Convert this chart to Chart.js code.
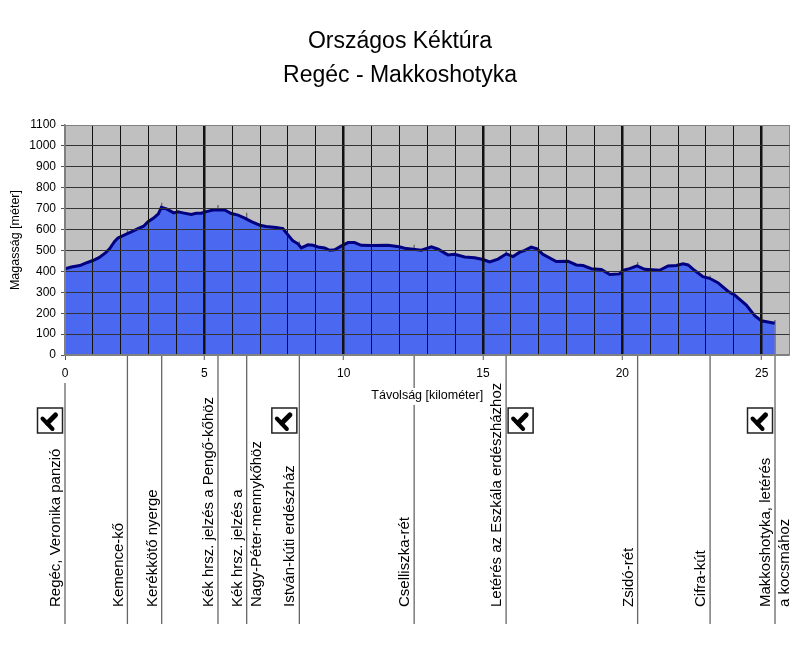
<!DOCTYPE html>
<html>
<head>
<meta charset="utf-8">
<title>Országos Kéktúra</title>
<style>
  html, body { margin: 0; padding: 0; background: #fff; }
  canvas { display: block; }
</style>
<script src="https://cdn.jsdelivr.net/npm/chart.js@4"></script>
</head>
<body>
<canvas id="profile" width="800" height="656"></canvas>
<script>
const titleLines = ["Országos Kéktúra", "Regéc - Makkoshotyka"];

// profile
const distances = [0, 0.23, 0.53, 0.74, 1.0, 1.22, 1.46, 1.6, 1.78, 1.9, 2.14, 2.38, 2.62, 2.82, 2.98, 3.18, 3.35, 3.46,
  3.64, 3.9, 4.05, 4.23, 4.53, 4.71, 4.89, 5.07, 5.31, 5.73, 5.97, 6.21, 6.45, 6.69, 6.99, 7.22, 7.58, 7.82, 8.0, 8.18,
  8.36, 8.48, 8.72, 8.9, 9.08, 9.32, 9.5, 9.68, 9.92, 10.16, 10.39, 10.63, 10.99, 11.59, 11.99, 12.25, 12.49, 12.79,
  13.15, 13.39, 13.74, 13.98, 14.34, 14.7, 15, 15.24, 15.54, 15.84, 16.08, 16.32, 16.5, 16.73, 16.94, 17.15, 17.63,
  18.05, 18.35, 18.59, 18.89, 19.25, 19.55, 19.9, 20.02, 20.26, 20.53, 20.8, 21.34, 21.64, 21.94, 22.18, 22.36, 22.6,
  22.89, 23.13, 23.43, 23.79, 24.03, 24.45, 24.75, 24.99, 25.47];
const elevations = [412, 421, 428, 440, 452, 466, 490, 508, 543, 560, 575, 589, 605, 616, 638, 655, 675, 707,
  699, 680, 685, 680, 672, 678, 678, 686, 694, 694, 677, 669, 655, 638, 621, 615, 610, 605, 575, 546,
  532, 512, 527, 525, 517, 512, 501, 503, 522, 538, 538, 525, 524, 525, 518, 509, 506, 501,
  517, 506, 479, 482, 469, 465, 457, 445, 459, 484, 471, 492, 501, 516, 508, 482, 447,
  449, 431, 428, 413, 409, 385, 388, 405, 413, 426, 410, 405, 426, 428, 436, 431, 404,
  375, 367, 346, 305, 287, 239, 188, 164, 152];

// waypoints: where they are on the route and how high their line reaches
const waypointKm = [0, 2.24, 3.47, 5.49, 6.52, 8.41, 12.53, 15.83, 20.55, 23.15, 25.48];
const waypointTops = [412, 602, 729, 718, 681, 543, 527, 499, 445, 380, 168];
const waypointNames = [
  ["Regéc, Veronika panzió"],
  ["Kemence-kő"],
  ["Kerékkötő nyerge"],
  ["Kék hrsz. jelzés a Pengő-kőhöz"],
  ["Kék hrsz. jelzés a", "Nagy-Péter-mennykőhöz"],
  ["István-kúti erdészház"],
  ["Cselliszka-rét"],
  ["Letérés az Eszkála erdészházhoz"],
  ["Zsidó-rét"],
  ["Cifra-kút"],
  ["Makkoshotyka, letérés", "a kocsmához"]
];
const stampKm = [0, 8.41, 15.83, 25.48];

const FONT = "'Liberation Sans', Arial, sans-serif";
Chart.defaults.font.family = FONT;
Chart.defaults.color = "#000";

function drawStamp(ctx, left, top) {
  ctx.save();
  ctx.translate(left, top);
  ctx.fillStyle = "#fff";
  ctx.strokeStyle = "#222";
  ctx.lineWidth = 1.5;
  ctx.fillRect(0, 0, 25, 25);
  ctx.strokeRect(0, 0, 25, 25);
  ctx.strokeStyle = "#000";
  ctx.lineCap = "round";
  ctx.lineWidth = 4;
  ctx.beginPath();
  ctx.moveTo(5, 10.5);
  ctx.lineTo(15, 21);
  ctx.stroke();
  ctx.beginPath();
  ctx.moveTo(10, 15);
  ctx.lineTo(18, 7);
  ctx.lineWidth = 5;
  ctx.stroke();
  ctx.restore();
}

const plotBackground = {
  id: "plotBackground",
  beforeDraw(chart) {
    const a = chart.chartArea, ctx = chart.ctx;
    ctx.fillStyle = "#c0c0c0";
    ctx.fillRect(a.left, a.top, a.width, a.height);
  }
};

// lines go under the filled profile, so only the part above it and below the axis shows
const waypointLines = {
  id: "waypointLines",
  beforeDatasetsDraw(chart) {
    const ctx = chart.ctx, x = chart.scales.x, y = chart.scales.y;
    const bottom = 624;
    ctx.save();
    ctx.strokeStyle = "#666";
    ctx.lineWidth = 1.3;
    waypointKm.forEach((km, i) => {
      const px = x.getPixelForValue(km);
      ctx.beginPath();
      if (i === 0) {
        ctx.moveTo(px, 383);
      } else {
        ctx.moveTo(px, y.getPixelForValue(waypointTops[i]));
      }
      if (km === 12.53) {  // axis title sits on this one
        ctx.lineTo(px, 388);
        ctx.moveTo(px, 405);
      }
      ctx.lineTo(px, bottom);
      ctx.stroke();
    });
    ctx.restore();
  },
  afterDraw(chart) {
    const ctx = chart.ctx, x = chart.scales.x;
    ctx.save();
    ctx.fillStyle = "#000";
    ctx.font = "15px " + FONT;
    ctx.textAlign = "left";
    ctx.textBaseline = "middle";
    waypointKm.forEach((km, i) => {
      const px = x.getPixelForValue(km);
      waypointNames[i].forEach((line, j) => {
        ctx.save();
        ctx.translate(px - 9 + j * 19, 607);
        ctx.rotate(-Math.PI / 2);
        ctx.fillText(line, 0, 0);
        ctx.restore();
      });
    });
    stampKm.forEach(km => {
      const px = x.getPixelForValue(km);
      // the 15.83 km stamp is on the right of its line, the others on the left
      const left = km === 15.83 ? px + 2 : px - 27.5;
      drawStamp(ctx, left, 408);
    });
    ctx.restore();
  }
};

new Chart(document.getElementById("profile"), {
  type: "line",
  data: {
    datasets: [{
      data: distances.map((d, i) => ({ x: d, y: elevations[i] })),
      borderColor: "#000080",
      borderWidth: 3,
      backgroundColor: "#4a69f0",
      fill: "origin",
      pointRadius: 0,
      tension: 0
    }]
  },
  plugins: [plotBackground, waypointLines],
  options: {
    responsive: false,
    animation: false,
    // equal side padding keeps the title centred on the page
    layout: { padding: { left: 10.5, right: 10.5, top: 0, bottom: 251 } },
    plugins: {
      legend: { display: false },
      tooltip: { enabled: false },
      title: {
        display: true,
        text: titleLines,
        color: "#000",
        font: { size: 23, weight: "normal", lineHeight: 1.48 },
        padding: { top: 25, bottom: 32 }
      }
    },
    scales: {
      x: {
        type: "linear",
        min: 0,
        max: 26,
        afterFit: s => { s.height = 50; },
        border: { color: "#808080", width: 1.5, z: 2 },
        grid: {
          z: 1,
          color: c => (c.tick.value === 0 || c.tick.value === 26) ? "#808080" : "#111",
          lineWidth: c => (c.tick.value % 5 === 0 && c.tick.value !== 0) ? 2.5 : 1,
          tickColor: c => c.tick.value % 5 === 0 ? "#555" : "rgba(0,0,0,0)",
          tickWidth: 1,
          tickLength: 5
        },
        ticks: {
          stepSize: 1,
          autoSkip: false,
          maxRotation: 0,
          padding: 6,
          font: { size: 12 },
          callback: v => v % 5 === 0 ? String(v) : ""
        },
        title: {
          display: true,
          text: "Távolság [kilométer]",
          font: { size: 12.5 },
          padding: { top: 0, bottom: 2 }
        }
      },
      y: {
        min: 0,
        max: 1100,
        afterFit: s => { s.width = 54.5; },
        border: { color: "#808080", width: 1.5, z: 2 },
        grid: {
          z: 1,
          color: c => (c.tick.value === 0 || c.tick.value === 1100) ? "#808080" : "#333",
          lineWidth: 1,
          tickColor: "#555",
          tickLength: 4
        },
        ticks: {
          stepSize: 100,
          padding: 5,
          font: { size: 12 },
          callback: v => String(v)
        },
        title: {
          display: true,
          text: "Magasság [méter]",
          font: { size: 12.5 },
          padding: { top: -2, bottom: 0 }
        }
      }
    }
  }
});
</script>
</body>
</html>
